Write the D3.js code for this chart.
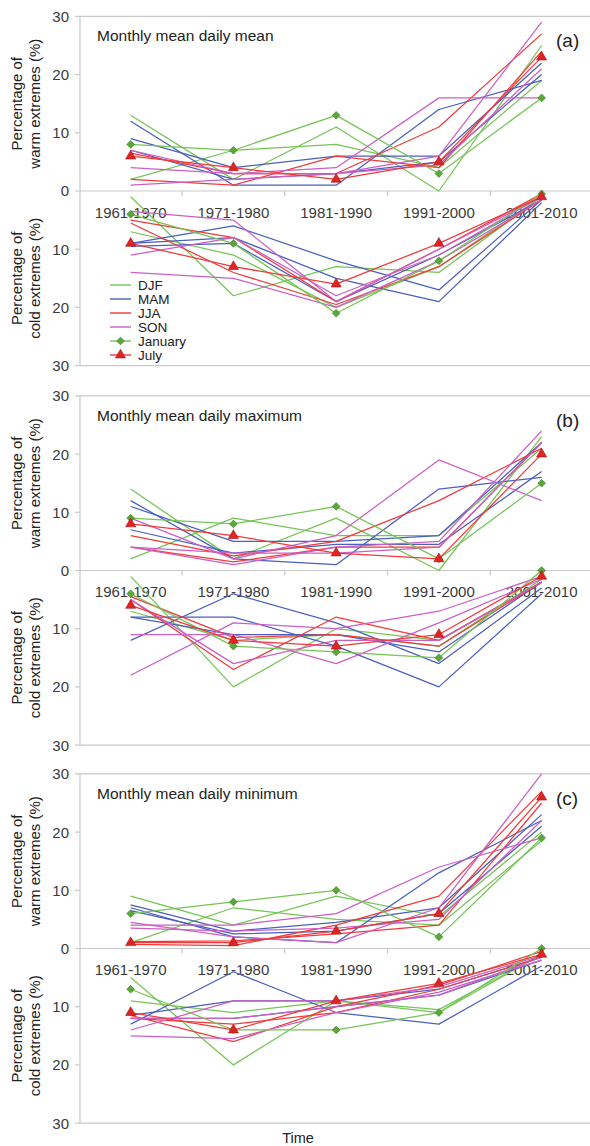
<!DOCTYPE html>
<html>
<head>
<meta charset="utf-8">
<script src="https://cdn.jsdelivr.net/npm/d3@7"></script>
<style>
  html, body { margin: 0; padding: 0; background: #fff; }
  svg { display: block; font-family: "Liberation Sans", Arial, sans-serif; }
</style>
</head>
<body>
<svg id="chart" width="590" height="1146"></svg>
<script>
// Decades on the x axis
const periods = ["1961-1970", "1971-1980", "1981-1990", "1991-2000", "2001-2010"];
const warmTicks = [0, 10, 20, 30];
const coldTicks = [10, 20, 30];
const panelTitles = ["Monthly mean daily mean", "Monthly mean daily maximum", "Monthly mean daily minimum"];
const panelTags = ["(a)", "(b)", "(c)"];
const seasons = ["DJF", "MAM", "JJA", "SON"];
// Month rows inside each season array: DJF = Dec, Jan, Feb; MAM = Mar, Apr, May;
// JJA = Jun, Jul, Aug; SON = Sep, Oct, Nov.  Jan and Jul carry markers.

// (a) daily mean — warm extremes (%)
const meanWarmDJF = [[13, 2, 11, 0, 25], [8, 7, 13, 3, 16], [2, 7, 8, 4, 19]];
const meanWarmMAM = [[12, 1, 1, 14, 19], [9, 4, 6, 6, 22], [7, 2, 3, 5, 20]];
const meanWarmJJA = [[6.5, 3, 3, 11, 27], [6, 4, 2, 5, 23], [2, 1, 6, 4, 24]];
const meanWarmSON = [[7, 3, 4, 16, 16], [4, 3, 3, 6, 29], [1, 2, 3, 4.5, 21]];
// (a) daily mean — cold extremes (%)
const meanColdDJF = [[1, 18, 13, 14, 1], [4, 9, 21, 12, 0.5], [7, 11, 20, 13, 1]];
const meanColdMAM = [[9, 6, 12, 17, 1.5], [9, 8, 15, 19, 2], [9.5, 9, 19, 11, 1.5]];
const meanColdJJA = [[5, 8, 19, 10, 0.5], [9, 13, 16, 9, 1], [5.5, 14, 19.5, 13, 1.5]];
const meanColdSON = [[3.5, 5, 19, 10, 1], [11, 8, 18, 11, 1], [14, 15, 20, 12, 1.5]];

// (b) daily maximum — warm extremes (%)
const maxWarmDJF = [[14, 2, 9, 0, 23], [9, 8, 11, 2, 15], [2, 9, 6, 6, 21]];
const maxWarmMAM = [[12, 2, 1, 14, 16], [11, 5, 5, 6, 22], [7, 3, 4.5, 4.5, 17]];
const maxWarmJJA = [[6, 2.5, 5, 12, 21], [8, 6, 3, 2, 20], [4, 1.5, 4, 4, 22]];
const maxWarmSON = [[9, 2, 6, 19, 12], [4, 1, 4, 5, 24], [4, 3, 3, 4, 22]];
// (b) daily maximum — cold extremes (%)
const maxColdDJF = [[1, 20, 10, 12, 2], [4, 13, 14, 15, 0], [7, 12, 11, 13, 1.5]];
const maxColdMAM = [[12, 4, 9, 16, 3], [8, 8, 13, 20, 4], [8, 11, 11, 14, 2]];
const maxColdJJA = [[5, 17, 8, 12, 2], [6, 12, 13, 11, 1], [4.5, 11.5, 11, 13, 2]];
const maxColdSON = [[18, 9, 10, 7, 1], [11, 11, 16, 9, 1.5], [5, 16, 12, 12, 2]];

// (c) daily minimum — warm extremes (%)
const minWarmDJF = [[9, 4, 9, 5.5, 20], [6, 8, 10, 2, 19], [1, 7, 5, 4, 18.5]];
const minWarmMAM = [[7, 2, 1, 13, 22], [7.5, 3, 4.5, 7, 23], [6.5, 2.5, 3, 6, 21]];
const minWarmJJA = [[0.7, 0.5, 4, 9, 27], [1, 1, 3, 6, 26], [1.2, 1.3, 2.5, 4, 25]];
const minWarmSON = [[4, 4, 6, 14, 19], [4.5, 2, 1, 7, 30], [3.5, 3, 3.5, 5, 22]];
// (c) daily minimum — cold extremes (%)
const minColdDJF = [[5, 20, 9, 11, 1], [7, 14, 14, 11, 0], [9, 11, 9, 10.5, 1]];
const minColdMAM = [[13, 4, 11, 13, 3], [11.5, 9, 9, 7, 1.5], [12, 12, 10, 8, 2]];
const minColdJJA = [[11.5, 16, 10, 6.3, 0.5], [11, 14, 9, 6, 1], [12, 13, 11, 7, 1.5]];
const minColdSON = [[14, 9, 9, 6.6, 1.2], [15, 15.5, 11, 7.5, 2], [12, 12, 10, 8, 1.5]];

const panels = [
  { warm: [meanWarmDJF, meanWarmMAM, meanWarmJJA, meanWarmSON], cold: [meanColdDJF, meanColdMAM, meanColdJJA, meanColdSON] },
  { warm: [maxWarmDJF, maxWarmMAM, maxWarmJJA, maxWarmSON], cold: [maxColdDJF, maxColdMAM, maxColdJJA, maxColdSON] },
  { warm: [minWarmDJF, minWarmMAM, minWarmJJA, minWarmSON], cold: [minColdDJF, minColdMAM, minColdJJA, minColdSON] }
];

const seasonColor = { DJF: "#76c456", MAM: "#4a5fbf", JJA: "#f03a3a", SON: "#cc5fc4" };
const janFill = "#5aa83a", janStroke = "#3e7f28";
const julFill = "#e02424", julStroke = "#a31414";
const axisColor = "#c9c9c9";
const textColor = "#3a3a3a";

const svg = d3.select("#chart");
const zeroLines = [191, 570.5, 948.5];
const halfHeight = 174.6;

const x = d3.scaleBand().domain(periods).range([79.3, 593]).padding(0);
const xc = p => x(p) + x.bandwidth() / 2;

const line = (yScale) => d3.line().x((d, i) => xc(periods[i])).y(d => yScale(d));

// square diamond marker (a square turned 45 degrees)
function diamond(g, cx, cy) {
  g.append("path").attr("d", d3.symbol(d3.symbolSquare, 30)())
    .attr("transform", `translate(${cx},${cy}) rotate(45)`)
    .attr("fill", janFill).attr("stroke", janStroke).attr("stroke-width", 0.6);
}
function triangle(g, cx, cy) {
  g.append("path").attr("d", d3.symbol(d3.symbolTriangle, 44)())
    .attr("transform", `translate(${cx},${cy})`)
    .attr("fill", julFill).attr("stroke", julStroke).attr("stroke-width", 0.6);
}

panels.forEach((panel, pi) => {
  const z = zeroLines[pi];
  const yWarm = d3.scaleLinear().domain([0, 30]).range([z, z - halfHeight]);
  const yCold = d3.scaleLinear().domain([0, 30]).range([z, z + halfHeight]);
  const g = svg.append("g");

  // frame: vertical axis and the horizontal lines at 30 / 0 / 30
  const axisG = g.append("g").attr("stroke", axisColor).attr("stroke-width", 1.2).attr("fill", "none");
  axisG.append("line").attr("x1", 80).attr("x2", 80).attr("y1", yWarm(30)).attr("y2", yCold(30));
  [yWarm(30), yWarm(0), yCold(30)].forEach(yy => {
    axisG.append("line").attr("x1", 75).attr("x2", 594).attr("y1", yy).attr("y2", yy);
  });
  [10, 20].forEach(v => {
    axisG.append("line").attr("x1", 75).attr("x2", 80).attr("y1", yWarm(v)).attr("y2", yWarm(v));
    axisG.append("line").attr("x1", 75).attr("x2", 80).attr("y1", yCold(v)).attr("y2", yCold(v));
  });
  periods.slice(1).forEach(p => {
    axisG.append("line").attr("x1", x(p)).attr("x2", x(p)).attr("y1", z).attr("y2", z + 5);
  });

  // y tick labels
  const tickG = g.append("g").attr("font-size", 15).attr("fill", textColor).attr("text-anchor", "end");
  warmTicks.forEach(v => tickG.append("text").attr("x", 69).attr("y", yWarm(v)).attr("dy", "0.36em").text(v));
  coldTicks.forEach(v => tickG.append("text").attr("x", 69).attr("y", yCold(v)).attr("dy", "0.36em").text(v));

  // x category labels, sitting just under the zero line
  const catG = g.append("g").attr("font-size", 15).attr("fill", textColor).attr("text-anchor", "middle");
  periods.forEach(p => catG.append("text").attr("x", xc(p)).attr("y", z + 26.5).text(p));

  // y axis titles
  const titleG = g.append("g").attr("font-size", 15).attr("fill", "#222").attr("text-anchor", "middle");
  const warmMid = (yWarm(0) + yWarm(30)) / 2, coldMid = (yCold(0) + yCold(30)) / 2;
  [["Percentage of", "warm extremes (%)", warmMid], ["Percentage of", "cold extremes (%)", coldMid]].forEach(([a, b, cy]) => {
    titleG.append("text").attr("transform", `translate(22,${cy}) rotate(-90)`).text(a);
    titleG.append("text").attr("transform", `translate(40,${cy}) rotate(-90)`).text(b);
  });

  // panel title and tag
  g.append("text").attr("x", 97).attr("y", yWarm(30) + 25).attr("font-size", 15.5).attr("fill", "#222").text(panelTitles[pi]);
  g.append("text").attr("x", 556).attr("y", yWarm(30) + 31).attr("font-size", 19).attr("fill", "#222").text(panelTags[pi]);

  // series lines: the ordinary months first, then January and July on top
  const lineG = g.append("g").attr("fill", "none").attr("stroke-width", 1.25).attr("stroke-linejoin", "round");
  const drawHalf = (sets, yScale) => {
    const gen = line(yScale);
    sets.forEach((rows, si) => {
      rows.forEach((vals, mi) => {
        const marked = (si === 0 || si === 2) && mi === 1;
        if (marked) return;
        lineG.append("path").attr("d", gen(vals)).attr("stroke", seasonColor[seasons[si]]);
      });
    });
    [[0, "jan"], [2, "jul"]].forEach(([si, kind]) => {
      const vals = sets[si][1];
      lineG.append("path").attr("d", gen(vals)).attr("stroke", seasonColor[seasons[si]]);
      vals.forEach((v, i) => {
        if (kind === "jan") diamond(g, xc(periods[i]), yScale(v));
        else triangle(g, xc(periods[i]), yScale(v));
      });
    });
  };
  drawHalf(panel.warm, yWarm);
  drawHalf(panel.cold, yCold);
});

// legend inside panel (a), lower half
const legendItems = [
  { label: "DJF", color: seasonColor.DJF, mark: null },
  { label: "MAM", color: seasonColor.MAM, mark: null },
  { label: "JJA", color: seasonColor.JJA, mark: null },
  { label: "SON", color: seasonColor.SON, mark: null },
  { label: "January", color: seasonColor.DJF, mark: "jan" },
  { label: "July", color: seasonColor.JJA, mark: "jul" }
];
const legend = svg.append("g").attr("font-size", 13.5).attr("fill", "#222");
legendItems.forEach((it, i) => {
  const yy = 285 + i * 14;
  legend.append("line").attr("x1", 110).attr("x2", 131).attr("y1", yy).attr("y2", yy)
    .attr("stroke", it.color).attr("stroke-width", 1.4);
  if (it.mark === "jan") diamond(legend, 120.5, yy);
  if (it.mark === "jul") triangle(legend, 120.5, yy);
  legend.append("text").attr("x", 138).attr("y", yy).attr("dy", "0.36em").text(it.label);
});

// shared x axis title
svg.append("text").attr("x", 298).attr("y", 1143).attr("text-anchor", "middle")
  .attr("font-size", 14.5).attr("fill", "#222").text("Time");
</script>
</body>
</html>
